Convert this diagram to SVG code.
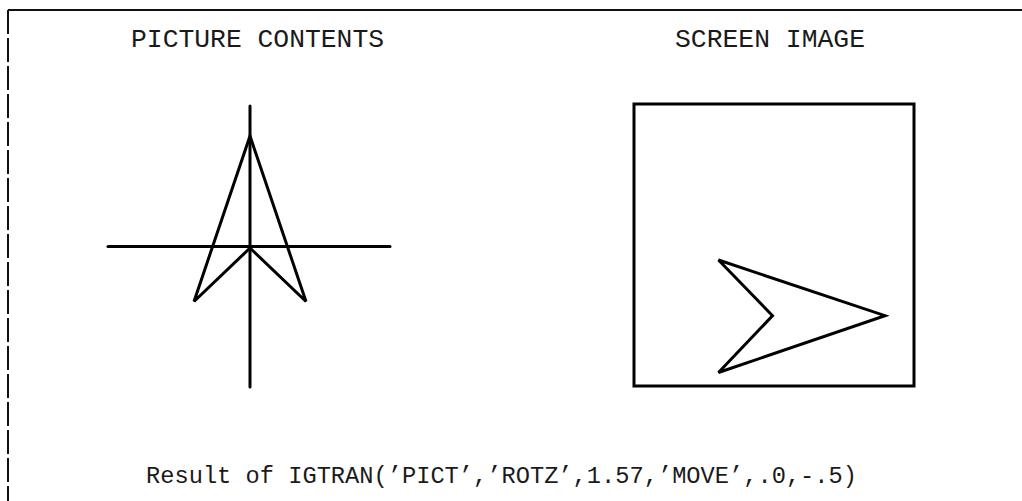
<svg xmlns="http://www.w3.org/2000/svg" width="1022" height="501" viewBox="0 0 1022 501">
  <style>
    .frame { fill: none; stroke: #111; stroke-width: 2; }
    .ink { fill: none; stroke: #000; stroke-width: 3; stroke-linejoin: miter; stroke-linecap: round; }
    .label { font-family: "Liberation Mono", "Courier New", monospace; fill: #1a1a1a; }
  </style>
  <rect width="1022" height="501" fill="#fff"/>

  <!-- page border -->
  <g id="border">
    <line class="frame" x1="8" y1="10" x2="1022" y2="10"/>
    <line class="frame" x1="8" y1="10" x2="8" y2="501" stroke-dasharray="24 4"/>
  </g>

  <!-- left panel: picture contents -->
  <g id="picture-contents">
    <text class="label" x="131" y="47" font-size="26" textLength="253" lengthAdjust="spacingAndGlyphs">PICTURE CONTENTS</text>
    <line class="ink" x1="250" y1="106" x2="250" y2="387"/>
    <line class="ink" x1="108" y1="246.5" x2="390" y2="246.5"/>
    <polygon class="ink" points="250,136 306,301.5 250,248 194,301.5"/>
  </g>

  <!-- right panel: screen image -->
  <g id="screen-image">
    <text class="label" x="675" y="47" font-size="26" textLength="190" lengthAdjust="spacingAndGlyphs">SCREEN IMAGE</text>
    <rect class="ink" x="634" y="104" width="280" height="282"/>
    <polygon class="ink" points="718.5,260 885,315.7 718.5,372.5 772.5,315.7"/>
  </g>

  <g id="caption">
    <text class="label" x="146" y="483" font-size="23.7" textLength="711" lengthAdjust="spacingAndGlyphs">Result of IGTRAN(’PICT’,’ROTZ’,1.57,’MOVE’,.0,-.5)</text>
  </g>
</svg>
